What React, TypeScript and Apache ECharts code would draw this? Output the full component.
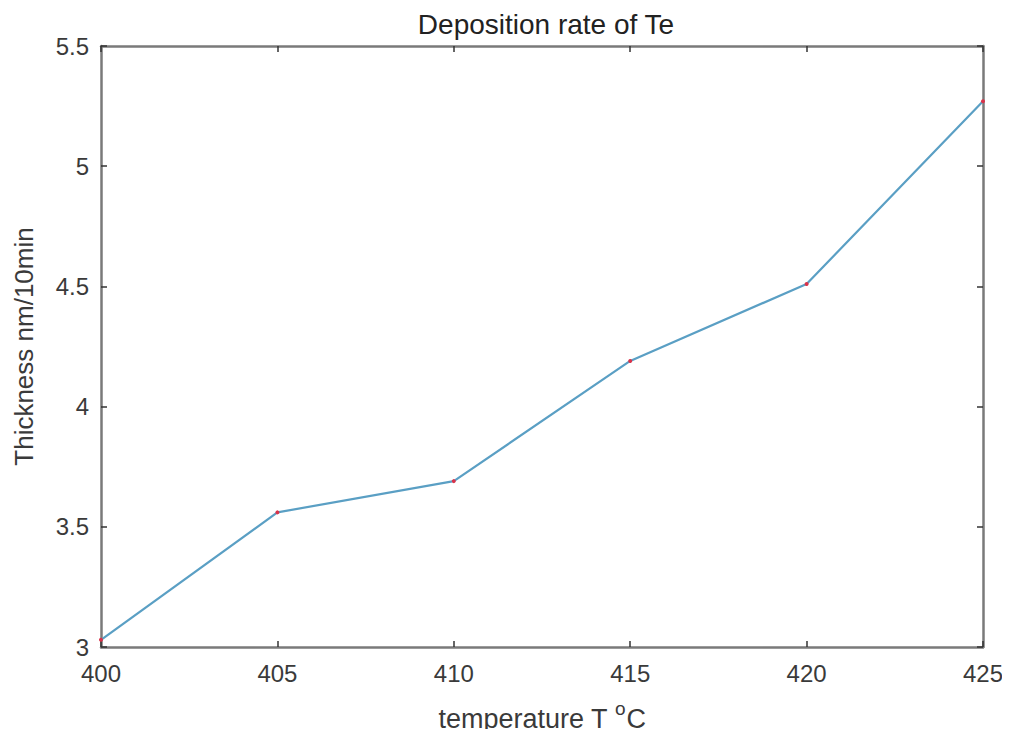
import React, { useEffect, useRef } from "react";
import * as echarts from "echarts";

const temperatures = [400, 405, 410, 415, 420, 425];
const thickness = [3.03, 3.56, 3.69, 4.19, 4.51, 5.27];
const titleText = "Deposition rate of Te";
const yAxisName = "Thickness nm/10min";

export default function App() {
  const ref = useRef<HTMLDivElement>(null);
  useEffect(() => {
    if (!ref.current) return;
    const chart = echarts.init(ref.current, undefined, { renderer: "svg" });
    const axisColor = "#7a7a7a";
    const labelColor = "#3a3a3a";
    const font = "Arial, 'Liberation Sans', sans-serif";
    const baseX = {
      type: "value" as const,
      min: 400,
      max: 425,
      interval: 5,
      axisLine: { show: true, onZero: false, lineStyle: { color: axisColor, width: 2.5 } },
      axisTick: { show: true, inside: true, length: 6, lineStyle: { color: "#333", width: 1.5 } },
      splitLine: { show: false },
    };
    const baseY = {
      type: "value" as const,
      min: 3,
      max: 5.5,
      interval: 0.5,
      axisLine: { show: true, onZero: false, lineStyle: { color: axisColor, width: 2.5 } },
      axisTick: { show: true, inside: true, length: 6, lineStyle: { color: "#333", width: 1.5 } },
      splitLine: { show: false },
    };
    chart.setOption({
      animation: false,
      backgroundColor: "#ffffff",
      title: {
        text: titleText,
        left: 541,
        top: 5,
        textAlign: "center",
        textStyle: { color: "#222", fontSize: 28, fontWeight: "normal", fontFamily: font },
      },
      grid: { left: 101, right: 27, top: 46, bottom: 86, containLabel: false },
      xAxis: [
        {
          ...baseX,
          position: "bottom",
          axisLabel: { color: labelColor, fontSize: 24, fontFamily: font, margin: 14 },
          name: "{a|temperature T }{s|o}{a|C}",
          nameLocation: "middle",
          nameGap: 50,
          nameTextStyle: {
            rich: {
              a: { color: labelColor, fontSize: 27, fontFamily: font, padding: [8, 0, 0, 0] },
              s: { color: labelColor, fontSize: 19, fontFamily: font, padding: [0, 1, 12, 0] },
            },
          },
        },
        { ...baseX, position: "top", axisLabel: { show: false } },
      ],
      yAxis: [
        {
          ...baseY,
          position: "left",
          axisLabel: { color: labelColor, fontSize: 24, fontFamily: font, margin: 12 },
          name: yAxisName,
          nameLocation: "middle",
          nameGap: 64,
          nameTextStyle: { color: labelColor, fontSize: 26, fontFamily: font },
        },
        { ...baseY, position: "right", axisLabel: { show: false } },
      ],
      series: [
        {
          type: "line",
          data: temperatures.map((t, i) => [t, thickness[i]]),
          lineStyle: { color: "#5a9fc4", width: 2.2 },
          symbol: "circle",
          symbolSize: 4,
          itemStyle: { color: "#d9334a" },
          clip: false,
        },
      ],
    });
    return () => chart.dispose();
  }, []);
  return <div ref={ref} style={{ width: 1010, height: 737, margin: -8 }} />;
}
